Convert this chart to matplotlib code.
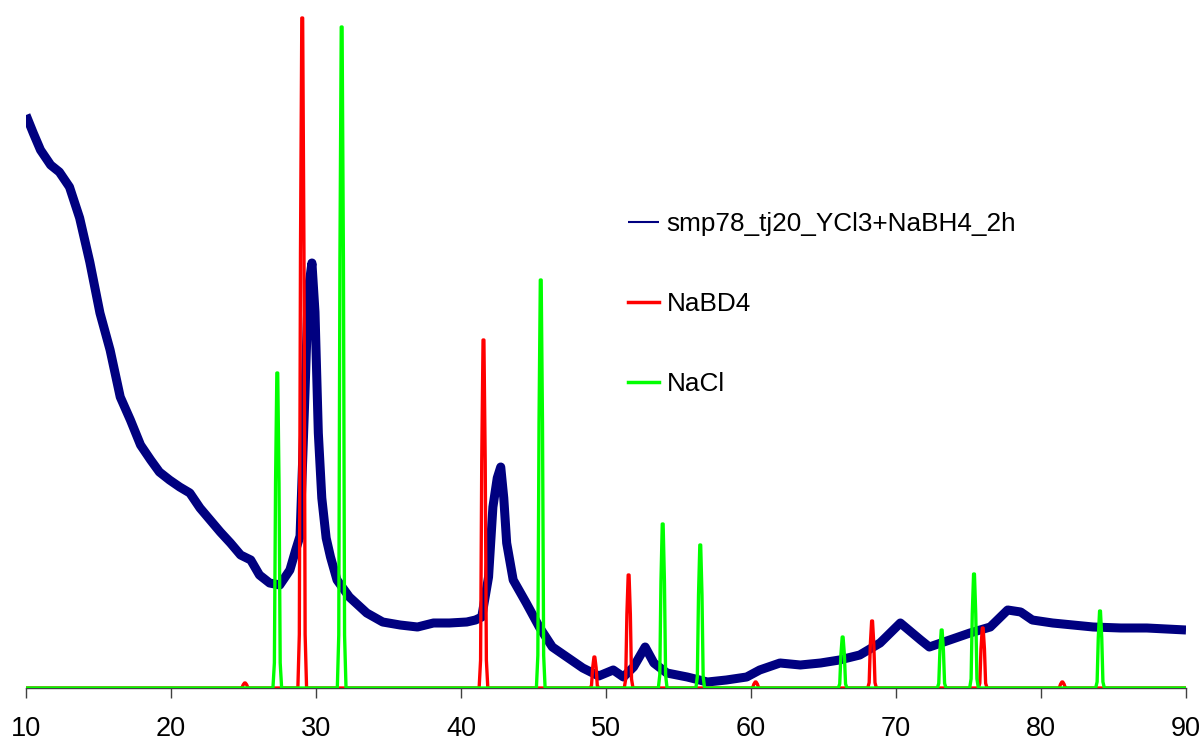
import matplotlib
matplotlib.use("Agg")
import matplotlib.pyplot as plt
import numpy as np

plt.rcParams['font.family'] = ['Liberation Sans', 'DejaVu Sans']

# ---- data ----
x_ticks = [10, 20, 30, 40, 50, 60, 70, 80, 90]

sample_label = "smp78_tj20_YCl3+NaBH4_2h"
sample_x = [10.0, 10.5, 11.0, 11.7, 12.3, 13.0, 13.7, 14.4, 15.1, 15.8, 16.5, 17.2,
            17.9, 18.6, 19.2, 19.9, 20.6, 21.3, 22.0, 22.7, 23.4, 24.1, 24.8, 25.5,
            26.1, 26.8, 27.5, 28.2, 28.6, 28.9, 29.24, 29.47, 29.72, 29.93, 30.16,
            30.4, 30.7, 31.0, 31.45, 32.3, 33.5, 34.6, 35.8, 37.0, 38.1, 39.2, 40.4,
            41.0, 41.43, 41.9, 42.2, 42.5, 42.74, 42.95, 43.15, 43.6, 44.5, 45.4,
            46.3, 47.3, 48.4, 49.5, 50.5, 51.2, 51.9, 52.7, 53.3, 54.2, 55.6, 57.0,
            58.3, 59.7, 60.6, 62.0, 63.4, 64.8, 66.1, 67.5, 68.9, 70.3, 71.7, 72.3,
            73.7, 75.1, 76.5, 77.7, 78.6, 79.4, 80.8, 82.2, 83.6, 85.5, 87.3, 90.0]
sample_y = [573, 555, 538, 523, 516, 501, 470, 426, 375, 338, 291, 268,
            243, 228, 216, 208, 201, 195, 180, 168, 156, 145, 133, 128,
            113, 105, 103, 118, 138, 152, 295, 398, 425, 376, 255,
            190, 150, 131, 108, 91, 75, 66, 63, 61, 65, 65, 66,
            68, 71, 111, 181, 210, 221, 190, 145, 108, 85, 61,
            41, 31, 20, 12, 18, 11, 21, 41, 25, 15, 11, 6,
            8, 11, 18, 25, 23, 25, 28, 33, 45, 65, 48, 41,
            48, 55, 61, 78, 76, 68, 65, 63, 61, 60, 60, 58]

nabd4_label = "NaBD4"
nabd4_pos = [25.1, 29.05, 41.55, 49.2, 51.56, 60.32, 68.35, 75.98, 81.47]
nabd4_int = [5, 670, 348, 31, 113, 6, 67, 60, 6]

nacl_label = "NaCl"
nacl_pos = [27.33, 31.77, 45.5, 53.91, 56.5, 66.32, 73.15, 75.38, 84.07]
nacl_int = [315, 661, 408, 164, 143, 51, 58, 114, 77]

# ---- drawing style (peak outline shape used to render reference lines) ----
PEAK_DX = [-0.30, -0.20, -0.12, -0.03, 0.03, 0.12, 0.20, 0.30]
PEAK_REL = [0.0, 0.08, 0.65, 1.0, 1.0, 0.65, 0.08, 0.0]


def pattern_trace(pos, inten, xmin=10.0, xmax=90.0):
    xs, ys = [xmin], [0.0]
    for p, h in sorted(zip(pos, inten)):
        for dx, r in zip(PEAK_DX, PEAK_REL):
            xs.append(p + dx)
            ys.append(h * r)
    xs.append(xmax)
    ys.append(0.0)
    return xs, ys


W, H = 1204, 742
fig = plt.figure(figsize=(W / 100, H / 100), dpi=100)
ax = fig.add_axes([26 / W, (H - 688) / H, (1186 - 26) / W, (688 - 10) / H])

ax.plot(sample_x, sample_y, color='#000080', lw=6.5, solid_joinstyle='round',
        solid_capstyle='butt', label=sample_label, zorder=2)
rx, ry = pattern_trace(nabd4_pos, nabd4_int)
ax.plot(rx, ry, color='#FF0000', lw=2.4, label=nabd4_label, zorder=3)
gx, gy = pattern_trace(nacl_pos, nacl_int)
ax.plot(gx, gy, color='#00FF00', lw=2.4, label=nacl_label, zorder=4)

ax.set_xlim(10, 90)
ax.set_ylim(0, 678)
ax.set_xticks(x_ticks)
ax.set_xticklabels([str(t) for t in x_ticks])
ax.set_yticks([])
for s in ['top', 'right', 'left']:
    ax.spines[s].set_visible(False)
ax.spines['bottom'].set_color('#404040')
ax.spines['bottom'].set_linewidth(1.0)
ax.tick_params(axis='x', direction='out', length=7.5, width=1.0, color='#404040',
               pad=12.5, labelsize=19.5, labelcolor='black')

leg = ax.legend(loc='upper left', bbox_to_anchor=(628 / W, 1 - 212 / H),
                bbox_transform=fig.transFigure, frameon=False, fontsize=18.8,
                handlelength=1.2, handletextpad=0.28, labelspacing=2.15,
                borderpad=0, borderaxespad=0)
leg.get_lines()[0].set_linewidth(1.5)
leg.get_lines()[1].set_linewidth(2.5)
leg.get_lines()[2].set_linewidth(2.5)

fig.savefig("out.png", dpi=100)
